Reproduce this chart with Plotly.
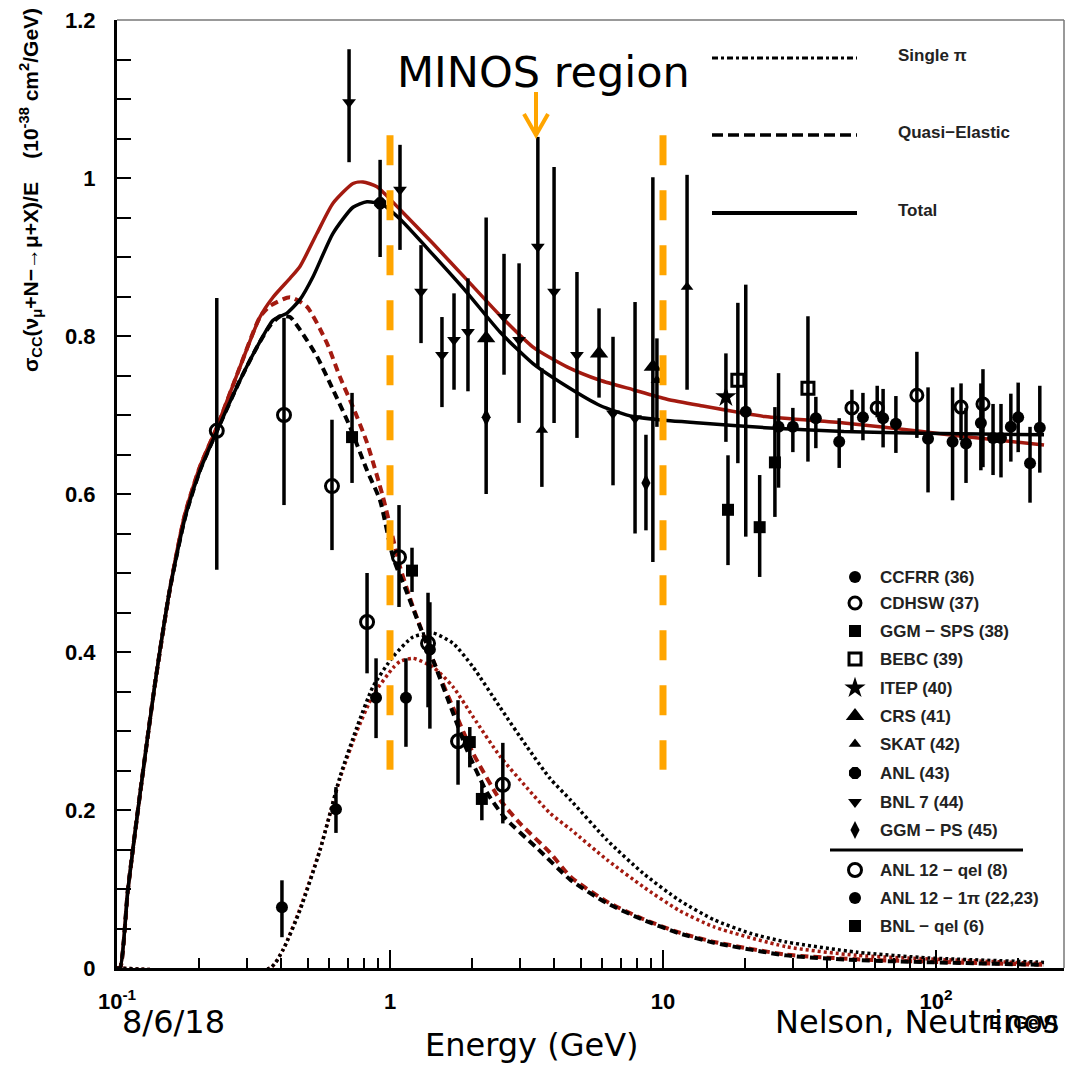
import plotly.graph_objects as go

# ---------------- model curves: neutrino energy (GeV) and sigma/E (1e-38 cm^2/GeV) ----------------
TOTAL_BLACK_E = [0.1, 0.1026, 0.1097, 0.1214, 0.1378, 0.1563, 0.1775, 0.2014, 0.2325, 0.2822, 0.3257,
                 0.3728, 0.4195, 0.4679, 0.5224, 0.6183, 0.732, 0.8235, 0.9428, 1.088, 1.437, 1.914,
                 2.529, 3.341, 4.45, 5.877, 7.766, 10.34, 13.66, 23.64, 46.0, 88.9, 248.7]
TOTAL_BLACK = [0, 0, 0.10, 0.22, 0.36, 0.48, 0.57, 0.63, 0.68, 0.744, 0.786,
               0.82, 0.829, 0.846, 0.875, 0.93, 0.963, 0.97, 0.966, 0.948, 0.903, 0.855,
               0.805, 0.765, 0.736, 0.712, 0.698, 0.693, 0.69, 0.684, 0.679, 0.677, 0.675]

TOTAL_RED_E = [0.1, 0.1026, 0.1097, 0.1214, 0.1378, 0.1563, 0.1775, 0.2014, 0.2325, 0.2822, 0.334,
               0.3728, 0.4302, 0.4679, 0.5403, 0.6183, 0.732, 0.7961, 0.8963, 1.088, 1.437, 1.914,
               2.529, 3.341, 4.45, 5.877, 7.766, 10.34, 13.66, 23.64, 46.0, 88.9, 124.5, 248.7]
TOTAL_RED = [0, 0, 0.10, 0.22, 0.36, 0.48, 0.575, 0.635, 0.685, 0.761, 0.824,
             0.849, 0.873, 0.888, 0.93, 0.968, 0.993, 0.995, 0.989, 0.96, 0.917, 0.871,
             0.826, 0.786, 0.761, 0.744, 0.732, 0.72, 0.712, 0.698, 0.69, 0.679, 0.673, 0.662]

QE_BLACK_E = [0.1, 0.1026, 0.1097, 0.1214, 0.1378, 0.1563, 0.1775, 0.2014, 0.2325, 0.2822, 0.3257,
              0.3634, 0.3955, 0.4302, 0.4679, 0.5403, 0.6183, 0.7138, 0.8235, 0.9192, 1.026, 1.154,
              1.288, 1.437, 1.701, 1.914, 2.267, 2.637, 3.426, 4.603, 6.235, 8.45, 11.44, 15.38,
              28.23, 51.4, 248.7]
QE_BLACK = [0, 0, 0.10, 0.22, 0.36, 0.48, 0.57, 0.63, 0.68, 0.744, 0.786,
            0.813, 0.825, 0.824, 0.808, 0.774, 0.732, 0.685, 0.63, 0.592, 0.52, 0.475,
            0.432, 0.39, 0.323, 0.276, 0.222, 0.19, 0.153, 0.111, 0.082, 0.061, 0.044, 0.032,
            0.016, 0.01, 0.004]

QE_RED_E = [0.1, 0.1026, 0.1097, 0.1214, 0.1378, 0.1563, 0.1775, 0.2014, 0.2325, 0.2822, 0.334,
            0.3634, 0.4302, 0.4966, 0.5875, 0.6558, 0.732, 0.8235, 0.9428, 1.088, 1.214, 1.437,
            1.701, 2.014, 2.529, 2.994, 3.856, 4.603, 6.235, 8.45, 11.44, 15.38, 28.23, 51.4, 248.7]
QE_RED = [0, 0, 0.10, 0.22, 0.36, 0.48, 0.575, 0.635, 0.685, 0.761, 0.824,
          0.838, 0.849, 0.837, 0.791, 0.748, 0.71, 0.665, 0.596, 0.508, 0.457, 0.39,
          0.33, 0.272, 0.213, 0.183, 0.146, 0.115, 0.084, 0.062, 0.045, 0.033, 0.017, 0.011, 0.004]

PI_BLACK_E = [0.1, 0.3634, 0.4056, 0.4679, 0.5541, 0.6558, 0.757, 0.8661, 1.026, 1.214, 1.437,
              1.701, 2.014, 2.529, 3.176, 3.856, 4.603, 6.235, 8.45, 11.44, 15.38, 20.83, 28.23,
              51.4, 94.3, 232.5, 248.7]
PI_BLACK = [0, 0, 0.023, 0.073, 0.149, 0.242, 0.305, 0.356, 0.394, 0.419, 0.424,
            0.411, 0.381, 0.33, 0.28, 0.24, 0.212, 0.162, 0.12, 0.086, 0.061, 0.044, 0.033,
            0.02, 0.0127, 0.0076, 0.007]

PI_RED_E = [0.1, 0.3634, 0.4056, 0.4679, 0.5541, 0.6558, 0.757, 0.8661, 1.026, 1.088, 1.214,
            1.437, 1.701, 2.014, 2.529, 3.176, 3.856, 4.603, 6.235, 8.45, 11.44, 15.38, 28.23,
            51.4, 232.5, 248.7]
PI_RED = [0, 0, 0.023, 0.075, 0.15, 0.24, 0.30, 0.345, 0.38, 0.388, 0.392,
          0.381, 0.356, 0.318, 0.268, 0.228, 0.196, 0.175, 0.137, 0.103, 0.073, 0.052, 0.027,
          0.016, 0.006, 0.0055]

# ---------------- measurements: energy, value, upper error, lower error ----------------
CCFRR_E = [20.1, 26.5, 29.9, 36.3, 44.2, 54.0, 64.0, 71.3, 93.5, 115, 128.8, 146, 161.8, 173, 188, 200, 221, 240]
CCFRR_SIG = [0.704, 0.685, 0.685, 0.696, 0.666, 0.697, 0.696, 0.689, 0.670, 0.666, 0.664, 0.690, 0.671, 0.671,
             0.685, 0.697, 0.639, 0.684]
CCFRR_UP = [0.161, 0.068, 0.024, 0.027, 0.030, 0.031, 0.037, 0.035, 0.065, 0.069, 0.045, 0.050, 0.043, 0.043,
            0.042, 0.044, 0.046, 0.053]
CCFRR_DN = [0.158, 0.077, 0.032, 0.038, 0.033, 0.029, 0.037, 0.037, 0.068, 0.074, 0.050, 0.060, 0.047, 0.050,
            0.044, 0.044, 0.050, 0.057]

CDHSW_E = [49.2, 60.9, 85.1, 123.5, 148.6]
CDHSW_SIG = [0.709, 0.709, 0.725, 0.710, 0.714]
CDHSW_UP = [0.023, 0.028, 0.055, 0.030, 0.044]
CDHSW_DN = [0.028, 0.012, 0.054, 0.042, 0.080]

GGM_SPS_E = [17.3, 22.6, 25.7]
GGM_SPS_SIG = [0.580, 0.558, 0.640]
GGM_SPS_UP = [0.069, 0.066, 0.070]
GGM_SPS_DN = [0.070, 0.063, 0.069]

BEBC_E = [18.8, 33.96]
BEBC_SIG = [0.744, 0.734]
BEBC_UP = [0.098, 0.091]
BEBC_DN = [0.105, 0.093]

ITEP_E = [17.0]
ITEP_SIG = [0.723]
ITEP_UP = [0.055]
ITEP_DN = [0.057]

CRS_E = [2.25, 5.83, 9.18]
CRS_SIG = [0.797, 0.778, 0.761]
CRS_UP = [0.153, 0.057, 0.240]
CRS_DN = [0.100, 0.056, 0.247]

SKAT_E = [3.6, 9.5, 12.25]
SKAT_SIG = [0.681, 0.744, 0.862]
SKAT_UP = [0.078, 0.053, 0.142]
SKAT_DN = [0.072, 0.059, 0.130]

ANL_E = [0.92]
ANL_SIG = [0.968]
ANL_UP = [0.055]
ANL_DN = [0.068]

BNL7_E = [0.708, 1.088, 1.299, 1.55, 1.716, 1.93, 2.616, 2.97, 3.48, 3.99, 4.84, 6.56, 7.9]
BNL7_SIG = [1.096, 0.985, 0.856, 0.776, 0.795, 0.805, 0.824, 0.795, 0.913, 0.856, 0.776, 0.702, 0.696]
BNL7_UP = [0.067, 0.057, 0.059, 0.048, 0.059, 0.068, 0.080, 0.097, 0.139, 0.158, 0.105, 0.097, 0.147]
BNL7_DN = [0.076, 0.076, 0.065, 0.066, 0.063, 0.075, 0.073, 0.105, 0.152, 0.166, 0.105, 0.091, 0.146]

GGM_PS_E = [2.25, 8.66]
GGM_PS_SIG = [0.697, 0.614]
GGM_PS_UP = [0.100, 0.061]
GGM_PS_DN = [0.097, 0.060]

ANL12_QEL_E = [0.232, 0.409, 0.613, 0.824, 1.079, 1.378, 1.775, 2.59]
ANL12_QEL_SIG = [0.680, 0.700, 0.610, 0.438, 0.520, 0.411, 0.287, 0.232]
ANL12_QEL_UP = [0.168, 0.123, 0.084, 0.062, 0.066, 0.064, 0.052, 0.053]
ANL12_QEL_DN = [0.176, 0.114, 0.081, 0.065, 0.063, 0.081, 0.055, 0.049]

ANL12_1PI_E = [0.402, 0.634, 0.889, 1.144, 1.40]
ANL12_1PI_SIG = [0.077, 0.201, 0.342, 0.342, 0.403]
ANL12_1PI_UP = [0.034, 0.028, 0.050, 0.050, 0.060]
ANL12_1PI_DN = [0.038, 0.030, 0.051, 0.062, 0.100]

BNL_QEL_E = [0.726, 1.204, 1.96, 2.17]
BNL_QEL_SIG = [0.672, 0.503, 0.286, 0.214]
BNL_QEL_UP = [0.056, 0.029, 0.019, 0.020]
BNL_QEL_DN = [0.058, 0.027, 0.032, 0.027]

# MINOS energy window marked by the orange dashed lines
MINOS_EDGES = [1, 10]
MINOS_LINE_Y = [1.054, 0.251]

X_TICK_VALS = [0.1, 1, 10, 100]
X_TICK_TEXT = ["10<sup>-1</sup>", "1", "10", "10<sup>2</sup>"]
X_MINOR_VALS = [m * d for d in (0.1, 1, 10, 100) for m in range(2, 10)]

# ---------------- styling / page geometry (pixels) ----------------
W, H = 1067, 1065
L, R, T, B = 117, 1064, 20, 968
BLACK = "black"
RED = "#a31a10"
ORANGE = "#ffa500"
TICK_FONT = dict(family="Liberation Sans", size=22, color="black", weight="bold")
LEG_FONT = dict(family="Liberation Sans", size=17, color="#222222", weight="bold")


def xp(px):
    return (px - L) / (R - L)


def yp(py):
    return (B - py) / (B - T)


fig = go.Figure()


def add_curve(x, y, color, dash, width):
    fig.add_trace(go.Scatter(x=x, y=y, mode="lines", hoverinfo="skip",
                             line=dict(color=color, dash=dash, width=width, shape="spline", smoothing=0.6)))


# theory curves
add_curve(PI_RED_E, PI_RED, RED, "3px,3px", 3.5)
add_curve(PI_BLACK_E, PI_BLACK, BLACK, "3px,3px", 3.5)
add_curve(QE_RED_E, QE_RED, RED, "8px,5px", 4)
add_curve(QE_BLACK_E, QE_BLACK, BLACK, "8px,5px", 4)
add_curve(TOTAL_RED_E, TOTAL_RED, RED, "solid", 3.5)
add_curve(TOTAL_BLACK_E, TOTAL_BLACK, BLACK, "solid", 3.5)


def add_points(x, y, up, dn, symbol, size, lw=0):
    fig.add_trace(go.Scatter(
        x=x, y=y, mode="markers", cliponaxis=False, hoverinfo="skip",
        marker=dict(symbol=symbol, size=size, color=BLACK, line=dict(width=lw, color=BLACK)),
        error_y=dict(type="data", symmetric=False, array=up, arrayminus=dn,
                     thickness=3.5, width=0, color=BLACK)))


# experiment markers (symbol, size, outline width)
STYLES = {
    "CCFRR": ("circle", 12, 0),
    "CDHSW": ("circle-open", 12, 3),
    "GGM_SPS": ("square", 12, 0),
    "BEBC": ("square-open", 12, 3),
    "ITEP": ("star", 16, 0),
    "CRS": ("triangle-up", 16, 0),
    "SKAT": ("triangle-up", 11, 0),
    "ANL": ("octagon", 13, 0),
    "BNL7": ("triangle-down", 12, 0),
    "GGM_PS": ("diamond-tall", 13, 0),
    "ANL12_QEL": ("circle-open", 13, 3),
    "ANL12_1PI": ("circle", 12, 0),
    "BNL_QEL": ("square", 12, 0),
}

add_points(CCFRR_E, CCFRR_SIG, CCFRR_UP, CCFRR_DN, *STYLES["CCFRR"])
add_points(CDHSW_E, CDHSW_SIG, CDHSW_UP, CDHSW_DN, *STYLES["CDHSW"])
add_points(GGM_SPS_E, GGM_SPS_SIG, GGM_SPS_UP, GGM_SPS_DN, *STYLES["GGM_SPS"])
add_points(BEBC_E, BEBC_SIG, BEBC_UP, BEBC_DN, *STYLES["BEBC"])
add_points(ITEP_E, ITEP_SIG, ITEP_UP, ITEP_DN, *STYLES["ITEP"])
add_points(CRS_E, CRS_SIG, CRS_UP, CRS_DN, *STYLES["CRS"])
add_points(SKAT_E, SKAT_SIG, SKAT_UP, SKAT_DN, *STYLES["SKAT"])
add_points(ANL_E, ANL_SIG, ANL_UP, ANL_DN, *STYLES["ANL"])
add_points(BNL7_E, BNL7_SIG, BNL7_UP, BNL7_DN, *STYLES["BNL7"])
add_points(GGM_PS_E, GGM_PS_SIG, GGM_PS_UP, GGM_PS_DN, *STYLES["GGM_PS"])
add_points(ANL12_QEL_E, ANL12_QEL_SIG, ANL12_QEL_UP, ANL12_QEL_DN, *STYLES["ANL12_QEL"])
add_points(ANL12_1PI_E, ANL12_1PI_SIG, ANL12_1PI_UP, ANL12_1PI_DN, *STYLES["ANL12_1PI"])
add_points(BNL_QEL_E, BNL_QEL_SIG, BNL_QEL_UP, BNL_QEL_DN, *STYLES["BNL_QEL"])

# orange dashed MINOS boundaries
for e in MINOS_EDGES:
    fig.add_trace(go.Scatter(x=[e, e], y=MINOS_LINE_Y, mode="lines", hoverinfo="skip",
                             line=dict(color=ORANGE, width=7, dash="30px,25px")))

# marker key (drawn on an overlay axis spanning the plot area)
KEY_NAMES = ["CCFRR (36)", "CDHSW (37)", "GGM − SPS (38)", "BEBC (39)", "ITEP (40)", "CRS (41)",
             "SKAT (42)", "ANL (43)", "BNL 7 (44)", "GGM − PS (45)",
             "ANL 12 − qel (8)", "ANL 12 − 1π (22,23)", "BNL − qel (6)"]
KEY_STYLES = ["CCFRR", "CDHSW", "GGM_SPS", "BEBC", "ITEP", "CRS", "SKAT", "ANL", "BNL7", "GGM_PS",
              "ANL12_QEL", "ANL12_1PI", "BNL_QEL"]
KEY_ROWS = [577, 603, 631, 659, 688, 716, 744, 773, 802, 830, 870, 898, 926]
for name, key, row in zip(KEY_NAMES, KEY_STYLES, KEY_ROWS):
    sym, size, lw = STYLES[key]
    fig.add_trace(go.Scatter(x=[xp(855)], y=[yp(row)], xaxis="x2", yaxis="y2", mode="markers",
                             hoverinfo="skip", cliponaxis=False,
                             marker=dict(symbol=sym, size=size, color=BLACK, line=dict(width=lw, color=BLACK))))


def note(x, y, text, font, xanchor="center", yanchor="middle", **kw):
    return dict(x=xp(x), y=yp(y), xref="paper", yref="paper", text=text, showarrow=False,
                xanchor=xanchor, yanchor=yanchor, font=font, **kw)


annotations = []
for name, row in zip(KEY_NAMES, KEY_ROWS):
    annotations.append(note(878, row, name, LEG_FONT, xanchor="left"))

# line-style key
LINE_KEY = [("Single π", 58, "6px,3px,3px,3px", 3), ("Quasi−Elastic", 135, "11px,5px", 3.5),
            ("Total", 213, "solid", 4)]
shapes = []
for label, row, dash, w in LINE_KEY:
    shapes.append(dict(type="line", xref="paper", yref="paper", x0=xp(712), x1=xp(857),
                       y0=yp(row), y1=yp(row), line=dict(color=BLACK, width=w, dash=dash)))
    annotations.append(note(896, row - 3, label, LEG_FONT, xanchor="left"))

# separator in the marker key
shapes.append(dict(type="line", xref="paper", yref="paper", x0=xp(830), x1=xp(1023), y0=yp(850), y1=yp(850),
                   line=dict(color=BLACK, width=3)))
# thin frame on top and right
shapes.append(dict(type="line", xref="paper", yref="paper", x0=0, x1=1, y0=1, y1=1,
                   line=dict(color="#777777", width=1.5)))
shapes.append(dict(type="line", xref="paper", yref="paper", x0=1, x1=1, y0=0, y1=1,
                   line=dict(color="#777777", width=1.5)))
# orange arrow under the title
shapes.append(dict(type="line", xref="paper", yref="paper", x0=xp(536), x1=xp(536), y0=yp(92), y1=yp(133),
                   line=dict(color=ORANGE, width=4)))
shapes.append(dict(type="path", xref="paper", yref="paper",
                   path=f"M {xp(524)} {yp(114)} L {xp(536)} {yp(135)} L {xp(548)} {yp(114)}",
                   line=dict(color=ORANGE, width=4)))

# titles and footer text
SLIDE_FONT = dict(family="DejaVu Sans", size=32, color="black")
annotations += [
    note(543, 72, "MINOS region", dict(family="DejaVu Sans", size=43, color="black")),
    note(30, 190, "σ<sub>CC</sub>(ν<sub>μ</sub>+N−→μ+X)/E    (10<sup>-38</sup> cm<sup>2</sup>/GeV)",
         dict(family="Liberation Sans", size=21, color="black", weight="bold"), textangle=-90),
    note(532, 1045, "Energy (GeV)", SLIDE_FONT),
    note(120, 1022, "8/6/18", SLIDE_FONT, xanchor="left"),
    note(773, 1022, "Nelson, Neutrinos", SLIDE_FONT, xanchor="left"),
    note(987, 1022, "E (GeV)", dict(family="Liberation Sans", size=19, color="black", weight="bold"),
         xanchor="left"),
]

fig.update_layout(
    width=W, height=H, margin=dict(l=L, r=W - R, t=T, b=H - B),
    paper_bgcolor="white", plot_bgcolor="white", showlegend=False,
    xaxis=dict(type="log", range=[-1, -1 + (R - L) / 273.0], showgrid=False, zeroline=False,
               showline=True, linecolor=BLACK, linewidth=3, ticks="inside", ticklen=18, tickwidth=2,
               tickcolor=BLACK, tickvals=X_TICK_VALS, ticktext=X_TICK_TEXT, tickfont=TICK_FONT,
               ticklabelstandoff=12,
               minor=dict(tickvals=X_MINOR_VALS, ticks="inside", ticklen=10, tickwidth=2, tickcolor=BLACK)),
    yaxis=dict(range=[0, 1.2], dtick=0.2, showgrid=False, zeroline=False, showline=True,
               linecolor=BLACK, linewidth=3, ticks="inside", ticklen=14, tickwidth=2, tickcolor=BLACK,
               tickfont=TICK_FONT, ticklabelstandoff=14,
               minor=dict(dtick=0.05, ticks="inside", ticklen=14, tickwidth=2, tickcolor=BLACK)),
    xaxis2=dict(overlaying="x", range=[0, 1], visible=False),
    yaxis2=dict(overlaying="y", range=[0, 1], visible=False),
    shapes=shapes, annotations=annotations,
)

fig.write_html("out.html")
